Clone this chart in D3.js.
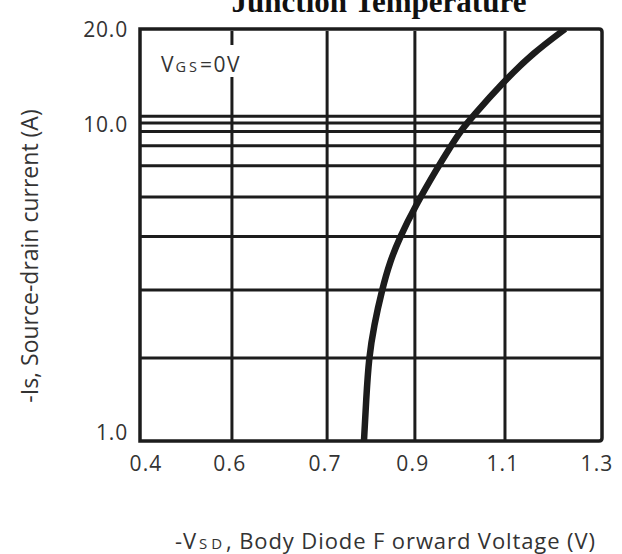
<!DOCTYPE html>
<html>
<head>
<meta charset="utf-8">
<script src="https://cdn.jsdelivr.net/npm/d3@7"></script>
<style>
  html, body { margin: 0; padding: 0; background: #fff; }
  svg { display: block; }
</style>
</head>
<body>
<script>
// ---- data ----
const xTickValues = [0.4, 0.6, 0.7, 0.9, 1.1, 1.3];
const xTickLabels = ["0.4", "0.6", "0.7", "0.9", "1.1", "1.3"];
const yTickValues = [1, 10, 20];
const yTickLabels = ["1.0", "10.0", "20.0"];
const yGridValues = [1.83, 3.0, 4.42, 5.9, 7.4, 8.56, 9.5, 10.1, 10.6];
const vsd = [0.784, 0.789, 0.795, 0.807, 0.825, 0.843, 0.866, 0.900, 0.951, 0.980, 1.000, 1.027, 1.096, 1.158, 1.224];
const isd = [1.0, 1.35, 1.83, 2.32, 3.0, 3.68, 4.41, 5.49, 7.33, 8.54, 9.46, 10.55, 13.6, 16.8, 20.0];
const titleText = "Junction Temperature";
const yLabelText = "-Is, Source-drain current (A)";

// ---- layout ----
const W = 622, H = 554;
const m = { left: 140, right: 20, top: 29, bottom: 113 };
const pw = W - m.left - m.right, ph = H - m.top - m.bottom;
const xStopFrac = [0, 0.199, 0.405, 0.595, 0.790, 1];
const ink = "#1c1c1c", txt = "#333";
const font = "'Open Sans', 'Noto Sans', sans-serif";

const svg = d3.select("body").append("svg").attr("width", W).attr("height", H);

const x = d3.scaleLinear().domain(xTickValues).range(xStopFrac.map(f => m.left + f * pw));
const y = d3.scaleLog().domain([1, 20]).range([m.top + ph, m.top]);

// title (partly cut off at top, as in the reference)
svg.append("text").attr("x", 379).attr("y", 12).attr("text-anchor", "middle")
  .attr("font-family", "'Liberation Serif', 'Times New Roman', serif")
  .attr("font-weight", "bold").attr("font-size", 31).attr("fill", "#111")
  .text(titleText);

const g = svg.append("g");

// horizontal grid
g.selectAll("line.hg").data(yGridValues).join("line").attr("class", "hg")
  .attr("x1", m.left).attr("x2", m.left + pw)
  .attr("y1", d => y(d)).attr("y2", d => y(d))
  .attr("stroke", ink).attr("stroke-width", 3);

// vertical grid
g.selectAll("line.vg").data(xTickValues.slice(1, -1)).join("line").attr("class", "vg")
  .attr("x1", d => x(d)).attr("x2", d => x(d))
  .attr("y1", m.top + 2).attr("y2", m.top + ph)
  .attr("stroke", ink).attr("stroke-width", 3);

// frame
const fx0 = m.left, fx1 = m.left + pw, fy0 = m.top, fy1 = m.top + ph;
g.append("path")
  .attr("d", `M${fx0},${fy0} L${fx1 - 3},${fy0} Q${fx1},${fy0} ${fx1},${fy0 + 3} L${fx1},${fy1 - 3} Q${fx1},${fy1} ${fx1 - 3},${fy1} L${fx0},${fy1} Z`)
  .attr("fill", "none").attr("stroke", ink).attr("stroke-width", 3.5);

// VGS label with white background
const labG = svg.append("g");
const bg = labG.append("rect").attr("fill", "#fff");
const lab = labG.append("text").attr("x", 161).attr("y", 72)
  .attr("font-family", font).attr("font-size", 21).attr("fill", txt);
lab.append("tspan").text("V");
lab.append("tspan").attr("font-size", 14.5).attr("letter-spacing", 2).attr("dx", 1).text("GS");
lab.append("tspan").attr("letter-spacing", 0.5).text("=0V");
lab.attr("textLength", 79).attr("lengthAdjust", "spacing");
const bb = lab.node().getBBox();
bg.attr("x", bb.x - 2).attr("y", 45).attr("width", bb.width + 6).attr("height", 32);

// curve
svg.append("clipPath").attr("id", "clip").append("rect")
  .attr("x", m.left).attr("y", m.top).attr("width", pw).attr("height", ph);
const pts = vsd.map((v, i) => [v, isd[i]]);
svg.append("path").datum(pts)
  .attr("clip-path", "url(#clip)")
  .attr("d", d3.line().x(d => x(d[0])).y(d => y(d[1])).curve(d3.curveBasis))
  .attr("fill", "none").attr("stroke", ink).attr("stroke-width", 6.5);

// y tick labels
svg.selectAll("text.yt").data(yTickValues).join("text").attr("class", "yt")
  .attr("x", m.left - 12)
  .attr("y", d => Math.min(y(d), fy1 - 9))
  .attr("dy", "0.36em").attr("text-anchor", "end")
  .attr("font-family", font).attr("font-size", 21).attr("fill", txt)
  .attr("letter-spacing", 0.8)
  .text((d, i) => yTickLabels[i]);

// x tick labels
svg.selectAll("text.xt").data(xTickValues).join("text").attr("class", "xt")
  .attr("x", (d, i) => x(d) + (i === 0 ? 6 : i === xTickValues.length - 1 ? -5 : -2))
  .attr("y", fy1 + 30).attr("text-anchor", "middle")
  .attr("font-family", font).attr("font-size", 21).attr("fill", txt)
  .attr("letter-spacing", 1.2)
  .text((d, i) => xTickLabels[i]);

// x axis title
const xt = svg.append("text").attr("x", 175).attr("y", 549)
  .attr("font-family", font).attr("font-size", 22).attr("fill", txt);
xt.append("tspan").text("-V");
xt.append("tspan").attr("font-size", 15).attr("letter-spacing", 3).attr("dx", 2).text("SD");
xt.append("tspan").text(", Body Diode F orward Voltage (V)");
xt.attr("textLength", 420).attr("lengthAdjust", "spacing");

// y axis title
svg.append("text")
  .attr("transform", `translate(38, 256) rotate(-90)`)
  .attr("text-anchor", "middle")
  .attr("font-family", font).attr("font-size", 23).attr("fill", txt)
  .text(yLabelText);
</script>
</body>
</html>
